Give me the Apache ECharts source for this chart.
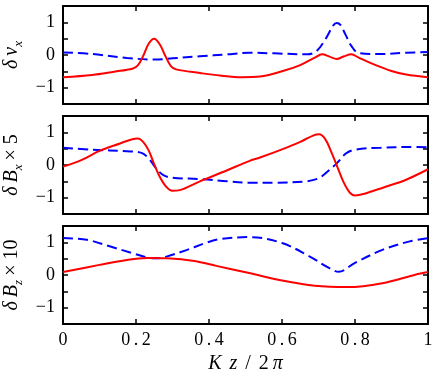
<!DOCTYPE html>
<html>
<head>
<meta charset="utf-8">
<script src="https://cdn.jsdelivr.net/npm/echarts@6/dist/echarts.min.js"></script>
<style>
  html, body { margin: 0; padding: 0; background: #fff; }
  #chart { width: 436px; height: 371px; }
</style>
</head>
<body>
<div id="chart"></div>
<script>
// panel 1: delta v_x
var vxReX = [0, 0.08, 0.14, 0.19, 0.205, 0.22, 0.235, 0.25, 0.265, 0.28, 0.295, 0.31, 0.375, 0.43, 0.49, 0.54, 0.6, 0.65, 0.69, 0.71, 0.73, 0.75, 0.77, 0.79, 0.81, 0.85, 0.9, 0.94, 1];
var vxReY = [-0.68, -0.61, -0.51, -0.42, -0.32, -0.02, 0.35, 0.5, 0.33, -0.02, -0.33, -0.44, -0.55, -0.63, -0.68, -0.66, -0.5, -0.31, -0.08, 0.02, -0.05, -0.12, -0.04, 0.02, -0.08, -0.28, -0.49, -0.6, -0.68];
var vxImX = [0, 0.08, 0.175, 0.25, 0.3, 0.375, 0.45, 0.51, 0.58, 0.67, 0.695, 0.72, 0.74, 0.75, 0.76, 0.775, 0.79, 0.81, 0.87, 0.94, 1];
var vxImY = [0.08, 0.03, -0.09, -0.14, -0.1, -0.04, 0.02, 0.07, 0.05, 0.02, 0.12, 0.5, 0.9, 0.98, 0.92, 0.6, 0.28, 0.06, 0.03, 0.07, 0.09];

// panel 2: delta B_x * 5
var bxReX = [0, 0.05, 0.1, 0.156, 0.19, 0.205, 0.22, 0.235, 0.25, 0.265, 0.283, 0.3, 0.32, 0.375, 0.45, 0.51, 0.54, 0.6, 0.65, 0.685, 0.702, 0.718, 0.732, 0.75, 0.768, 0.786, 0.8, 0.823, 0.88, 0.94, 1];
var bxReY = [-0.05, 0.15, 0.43, 0.66, 0.79, 0.81, 0.7, 0.44, 0.02, -0.36, -0.67, -0.79, -0.77, -0.5, -0.16, 0.12, 0.23, 0.48, 0.71, 0.9, 0.94, 0.8, 0.48, -0.01, -0.51, -0.85, -0.93, -0.89, -0.68, -0.45, -0.13];
var bxImX = [0, 0.08, 0.175, 0.215, 0.235, 0.255, 0.275, 0.3, 0.375, 0.45, 0.51, 0.58, 0.665, 0.7, 0.725, 0.75, 0.775, 0.8, 0.87, 0.95, 1];
var bxImY = [0.53, 0.47, 0.42, 0.37, 0.2, -0.1, -0.31, -0.39, -0.43, -0.5, -0.54, -0.54, -0.5, -0.41, -0.2, 0.05, 0.35, 0.47, 0.53, 0.55, 0.54];

// panel 3: delta B_z * 10
var bzReX = [0, 0.1, 0.175, 0.23, 0.285, 0.36, 0.42, 0.51, 0.6, 0.69, 0.78, 0.875, 0.965, 1];
var bzReY = [0.09, 0.31, 0.46, 0.52, 0.51, 0.43, 0.28, 0.06, -0.17, -0.33, -0.37, -0.25, 0.01, 0.09];
var bzImX = [0, 0.065, 0.13, 0.19, 0.23, 0.255, 0.285, 0.34, 0.39, 0.43, 0.51, 0.6, 0.675, 0.73, 0.755, 0.8, 0.875, 0.95, 1];
var bzImY = [1.13, 1.08, 0.87, 0.67, 0.54, 0.51, 0.57, 0.77, 0.98, 1.1, 1.16, 0.98, 0.57, 0.21, 0.1, 0.37, 0.77, 1.03, 1.13];

var yNames = ['{i|δ\u2009v}{s|x}', '{i|δ\u2009B}{s|x}{r|\u2009× 5}', '{i|δ\u2009B}{s|z}{r|\u2009× 10}'];
var xName = '{i|K\u2009\u2009z}{r|\u2009\u2009/\u2009\u20092\u2009}{i|π}';

var FONT = 'Liberation Serif';
var panelTops = [6, 116, 226];
var panels = [
  [[vxReX, vxReY], [vxImX, vxImY]],
  [[bxReX, bxReY], [bxImX, bxImY]],
  [[bzReX, bzReY], [bzImX, bzImY]]
];

function pairs(xs, ys) {
  return xs.map(function (x, i) { return [x, ys[i]]; });
}

var grids = [], xAxes = [], yAxes = [], series = [];
var axLine = { onZero: false, lineStyle: { color: '#000', width: 2 } };
var tick = { inside: true, length: 5, lineStyle: { color: '#000', width: 1.5 } };

panels.forEach(function (p, k) {
  grids.push({ left: 63, right: 8, top: panelTops[k], height: 98, outerBoundsMode: 'none' });
  var last = k === panels.length - 1;
  // bottom and top x axes
  xAxes.push({
    type: 'value', gridIndex: k, position: 'bottom', min: 0, max: 1, interval: 0.2,
    axisLine: axLine, axisTick: tick, splitLine: { show: false },
    axisLabel: {
      show: last, color: '#000', fontFamily: FONT, fontSize: 18, margin: 7,
      formatter: function (v) {
        if (v === 0 || v === 1) return String(v);
        return v.toFixed(1).replace('.', '\u2009.\u2009');
      }
    },
    name: last ? xName : '', nameLocation: 'middle', nameGap: 30,
    nameTextStyle: {
      rich: {
        i: { fontFamily: FONT, fontSize: 20, fontStyle: 'italic', color: '#000' },
        r: { fontFamily: FONT, fontSize: 20, color: '#000' }
      }
    }
  });
  xAxes.push({
    type: 'value', gridIndex: k, position: 'top', min: 0, max: 1, interval: 0.2,
    axisLine: axLine, axisTick: tick, axisLabel: { show: false }, splitLine: { show: false }
  });
  // left and right y axes
  yAxes.push({
    type: 'value', gridIndex: k, position: 'left', min: -1.5, max: 1.5, interval: 0.5,
    axisLine: axLine, axisTick: tick, splitLine: { show: false },
    axisLabel: {
      color: '#000', fontFamily: FONT, fontSize: 18, margin: 8,
      formatter: function (v) {
        if (Math.abs(v - Math.round(v)) > 1e-9 || Math.abs(v) > 1.2) return '';
        return v < 0 ? '\u2212' + Math.abs(v) : String(v);
      }
    },
    name: yNames[k], nameLocation: 'middle', nameGap: 35, nameRotate: 90,
    nameTextStyle: {
      rich: {
        i: { fontFamily: FONT, fontSize: 20, fontStyle: 'italic', color: '#000', lineHeight: 26, verticalAlign: 'middle' },
        s: { fontFamily: FONT, fontSize: 13, fontStyle: 'italic', color: '#000', lineHeight: 26, verticalAlign: 'bottom' },
        r: { fontFamily: FONT, fontSize: 20, color: '#000', lineHeight: 26, verticalAlign: 'middle' }
      }
    }
  });
  yAxes.push({
    type: 'value', gridIndex: k, position: 'right', min: -1.5, max: 1.5, interval: 0.5,
    axisLine: axLine, axisTick: tick, axisLabel: { show: false }, splitLine: { show: false }
  });

  series.push({
    type: 'line', xAxisIndex: 2 * k, yAxisIndex: 2 * k,
    data: pairs(p[0][0], p[0][1]), showSymbol: false, smooth: 0.35, z: 3,
    lineStyle: { color: '#ff0000', width: 2 }
  });
  series.push({
    type: 'line', xAxisIndex: 2 * k, yAxisIndex: 2 * k,
    data: pairs(p[1][0], p[1][1]), showSymbol: false, smooth: 0.35, z: 2,
    lineStyle: { color: '#0000ff', width: 2, type: [10, 5] }
  });
});

var option = {
  animation: false,
  backgroundColor: '#fff',
  grid: grids,
  xAxis: xAxes,
  yAxis: yAxes,
  series: series
};

var myChart = echarts.init(document.getElementById('chart'));
myChart.setOption(option, true);
</script>
</body>
</html>
